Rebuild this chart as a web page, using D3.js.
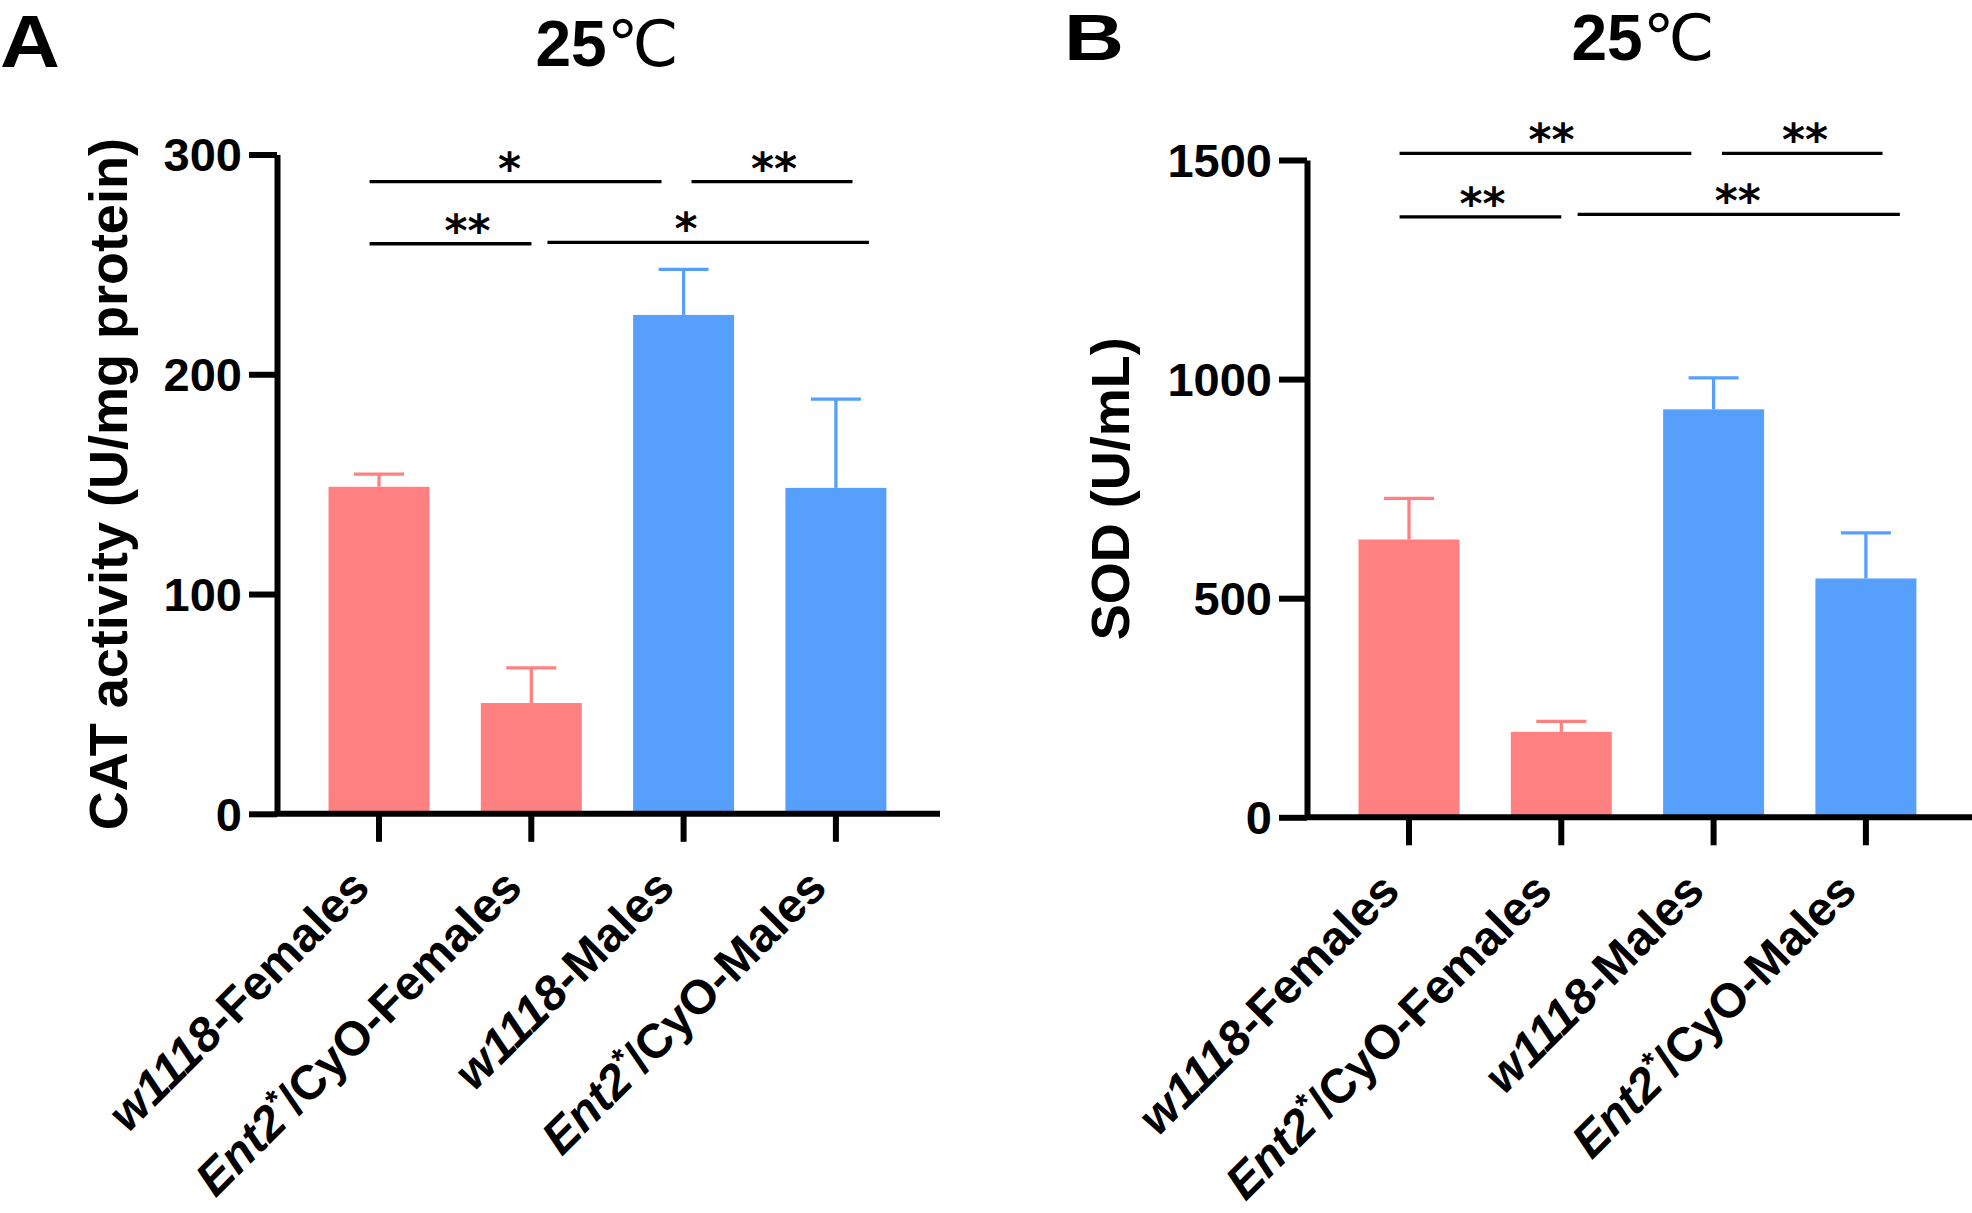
<!DOCTYPE html>
<html><head><meta charset="utf-8">
<script src="https://cdn.jsdelivr.net/npm/d3@7"></script>
<style>body{margin:0;background:#fff}svg{display:block}</style>
</head><body>
<svg id="c" width="1972" height="1213"></svg>
<script>
// ---------- data ----------
const categories = ["w1118-Females", "Ent2*/CyO-Females", "w1118-Males", "Ent2*/CyO-Males"];
const categoryGroup = ["F", "F", "M", "M"];
// tick label pieces (italic gene names, superscript asterisk)
const categoryLabelParts = [
  [{t: "w1118", it: true}, {t: "-Females"}],
  [{t: "Ent2", it: true}, {t: "*", it: true, sup: true}, {t: "/CyO-Females"}],
  [{t: "w1118", it: true}, {t: "-Males"}],
  [{t: "Ent2", it: true}, {t: "*", it: true, sup: true}, {t: "/CyO-Males"}]
];
const catMean = [148.8, 50.4, 227.0, 148.3];
const catSD   = [5.8, 16.0, 20.7, 40.4];
const catTicks = [0, 100, 200, 300];
const sodMean = [634, 195, 931, 545];
const sodSD   = [94, 24, 72, 104];
const sodTicks = [0, 500, 1000, 1500];
// significance brackets: from/to/star position in category-index units, level in value units
const catSig = [
  {from: -0.062, to: 1.855, at: 0.857, level: 287.7, label: "*"},
  {from: 2.052, to: 3.109, at: 2.594, level: 287.7, label: "**"},
  {from: -0.062, to: 1.001, at: 0.581, level: 259.4, label: "**"},
  {from: 1.106, to: 3.217, at: 2.016, level: 260.0, label: "*"}
];
const sodSig = [
  {from: -0.062, to: 1.854, at: 0.936, level: 1515, label: "**"},
  {from: 2.055, to: 3.109, at: 2.601, level: 1515, label: "**"},
  {from: -0.062, to: 1.000, at: 0.483, level: 1370, label: "**"},
  {from: 1.107, to: 3.223, at: 2.158, level: 1376, label: "**"}
];
const titleText = "25";
const titleUnit = "℃";

// ---------- style ----------
const FONT = "'Liberation Sans', Arial, Helvetica, sans-serif";
const groupColor = {F: "#FF8080", M: "#56A0FB"};
const svg = d3.select("#c");

function drawPanel(cfg) {
  const g = svg.append("g");
  const x0 = cfg.x0, y0 = cfg.y0, yTop = cfg.yTop, axisLen = cfg.axisLen;
  const x = d3.scaleBand().domain(categories)
    .range([x0 + 25.85, x0 + 25.85 + 609.2]).paddingInner(0.337).paddingOuter(0.1685);
  const y = d3.scaleLinear().domain([0, cfg.max]).range([y0, yTop]);
  const cx = i => x(categories[i]) + x.bandwidth() / 2;
  const idx = d3.scaleLinear().domain([0, 1]).range([cx(0), cx(1)]);

  // bars
  g.append("g").selectAll("rect").data(cfg.mean).join("rect")
    .attr("x", (d, i) => x(categories[i]))
    .attr("width", x.bandwidth())
    .attr("y", d => y(d))
    .attr("height", d => y(0) - y(d))
    .attr("fill", (d, i) => groupColor[categoryGroup[i]]);

  // error bars (upper only)
  const eb = g.append("g").selectAll("g").data(cfg.mean).join("g")
    .attr("stroke", (d, i) => groupColor[categoryGroup[i]])
    .attr("stroke-width", 3.3);
  eb.append("line")
    .attr("x1", (d, i) => cx(i)).attr("x2", (d, i) => cx(i))
    .attr("y1", d => y(d)).attr("y2", (d, i) => y(d + cfg.sd[i]));
  eb.append("line")
    .attr("x1", (d, i) => cx(i) - 25).attr("x2", (d, i) => cx(i) + 25)
    .attr("y1", (d, i) => y(d + cfg.sd[i])).attr("y2", (d, i) => y(d + cfg.sd[i]));

  // x axis
  const xa = g.append("g").attr("transform", `translate(0,${y0})`)
    .call(d3.axisBottom(x).tickSize(28).tickSizeOuter(0).tickFormat(""));
  xa.select(".domain").remove();
  xa.selectAll(".tick line").attr("stroke", "#000").attr("stroke-width", 6);
  xa.append("line").attr("x1", x0).attr("x2", x0 + axisLen)
    .attr("y1", 0).attr("y2", 0).attr("stroke", "#000").attr("stroke-width", 6);
  xa.selectAll(".tick").each(function(d, i) {
    const t = d3.select(this).append("text")
      .attr("transform", "translate(-7,76) rotate(-45)")
      .attr("text-anchor", "end")
      .attr("fill", "#000")
      .attr("font-family", FONT).attr("font-weight", "bold").attr("font-size", 48);
    categoryLabelParts[i].forEach((p, k) => {
      const prevSup = k > 0 && categoryLabelParts[i][k - 1].sup;
      const ts = t.append("tspan").text(p.t)
        .attr("font-style", p.it ? "italic" : "normal");
      if (p.sup) ts.attr("font-size", 32).attr("dy", -17);
      if (prevSup) ts.attr("dy", 17);
    });
  });

  // y axis
  const ya = g.append("g").attr("transform", `translate(${x0},0)`)
    .call(d3.axisLeft(y).tickValues(cfg.ticks).tickSize(28).tickSizeOuter(0)
      .tickPadding(7).tickFormat(d3.format("d")));
  ya.select(".domain").attr("stroke", "#000").attr("stroke-width", 6);
  ya.selectAll(".tick line").attr("stroke", "#000").attr("stroke-width", 6);
  ya.selectAll(".tick text").attr("fill", "#000")
    .attr("font-family", FONT).attr("font-weight", "bold").attr("font-size", 47)
    .attr("dy", "0.35em");

  // y label
  g.append("text")
    .attr("transform", `translate(${cfg.labelX},${(y0 + yTop) / 2}) rotate(-90)`)
    .attr("text-anchor", "middle")
    .attr("font-family", FONT).attr("font-weight", "bold").attr("font-size", 54)
    .text(cfg.yLabel);

  // significance
  const sg = g.append("g");
  sg.selectAll("line").data(cfg.sig).join("line")
    .attr("x1", d => idx(d.from)).attr("x2", d => idx(d.to))
    .attr("y1", d => y(d.level)).attr("y2", d => y(d.level))
    .attr("stroke", "#000").attr("stroke-width", 3.3);
  sg.selectAll("text").data(cfg.sig).join("text")
    .attr("x", d => idx(d.at)).attr("y", d => y(d.level) + cfg.starDy)
    .attr("text-anchor", "middle")
    .attr("font-family", "'DejaVu Sans', sans-serif").attr("font-weight", "bold")
    .attr("font-size", 44)
    .text(d => d.label);

  // title
  const tt = g.append("text").attr("x", cfg.titleX).attr("y", cfg.titleY)
    .attr("text-anchor", "middle")
    .attr("font-family", FONT).attr("font-weight", "bold").attr("font-size", 64);
  tt.append("tspan").text(titleText);
  tt.append("tspan").text(titleUnit)
    .attr("font-family", "'DejaVu Sans', sans-serif").attr("font-weight", "normal");

  // panel letter
  g.append("text").attr("x", cfg.letterX).attr("y", cfg.letterY)
    .attr("font-family", FONT).attr("font-weight", "bold").attr("font-size", cfg.letterSize)
    .attr("textLength", cfg.letterLen).attr("lengthAdjust", "spacingAndGlyphs")
    .text(cfg.letter);
}

drawPanel({
  x0: 277, y0: 813.8, yTop: 154.5, axisLen: 663, max: 300,
  mean: catMean, sd: catSD, ticks: catTicks, sig: catSig,
  yLabel: "CAT activity (U/mg protein)", labelX: 127, starDy: 2,
  titleX: 607, titleY: 66, letter: "A", letterX: 0, letterY: 67, letterSize: 74, letterLen: 60
});
drawPanel({
  x0: 1307, y0: 817.3, yTop: 160, axisLen: 670, max: 1500,
  mean: sodMean, sd: sodSD, ticks: sodTicks, sig: sodSig,
  yLabel: "SOD (U/mL)", labelX: 1129, starDy: 2,
  titleX: 1643, titleY: 60, letter: "B", letterX: 1064, letterY: 60, letterSize: 64, letterLen: 60
});
</script>
</body></html>
